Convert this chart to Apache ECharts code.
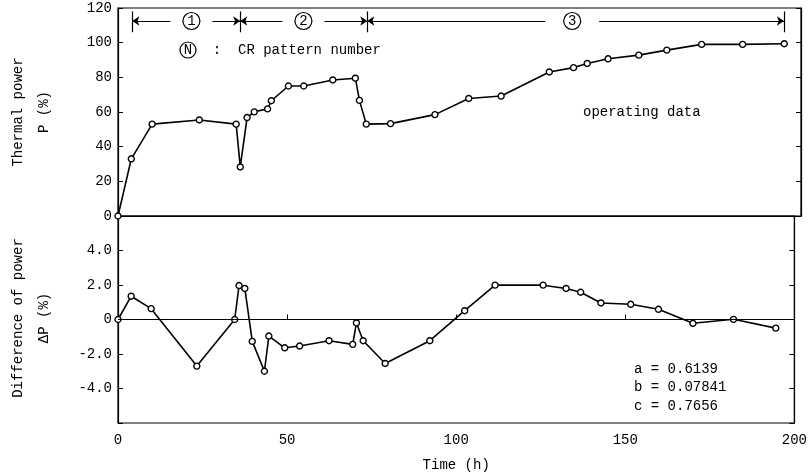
<!DOCTYPE html>
<html><head><meta charset="utf-8">
<script src="https://cdn.jsdelivr.net/npm/echarts@6/dist/echarts.min.js"></script>
<style>html,body{margin:0;padding:0;background:#fff}#c{width:810px;height:475px}</style>
</head><body><div id="c"></div>
<script>
// Top panel: thermal power P (%)
const powerTime = [0, 3.9, 10.0, 23.8, 34.6, 35.8, 37.8, 39.9, 43.8, 44.9, 49.9, 54.4, 62.9, 69.5, 70.7, 72.7, 79.8, 92.8, 102.7, 112.2, 126.3, 133.4, 137.4, 143.5, 152.5, 160.7, 170.9, 182.9, 195.1];
const powerValues = [0, 33, 53, 55.4, 53, 28.3, 56.8, 60.1, 61.8, 66.5, 75, 75, 78.5, 79.5, 66.7, 53, 53.3, 58.5, 67.8, 69.2, 83.1, 85.6, 88, 90.7, 92.8, 95.7, 99, 99, 99.4];
// Bottom panel: difference of power dP (%)
const diffTime = [0, 3.9, 9.8, 23.3, 34.5, 35.8, 37.5, 39.7, 43.3, 44.6, 49.3, 53.7, 62.4, 69.4, 70.5, 72.5, 79.0, 92.2, 102.5, 111.5, 125.7, 132.5, 136.8, 142.8, 151.6, 159.8, 170.0, 182.0, 194.5];
const diffValues = [0, 1.35, 0.63, -2.7, 0, 1.97, 1.8, -1.27, -3.0, -0.96, -1.64, -1.54, -1.23, -1.44, -0.2, -1.23, -2.55, -1.23, 0.51, 1.99, 1.99, 1.8, 1.58, 0.96, 0.88, 0.59, -0.22, 0.01, -0.5];
// CR pattern phases
const phaseBounds = [4.2, 35.8, 73, 195];
const phaseLabels = ['1', '2', '3'];
const phaseLabelAt = [21.5, 54.3, 133];
const phaseLevel = 112.5, phaseBarLow = 106, phaseBarHigh = 118;
// Axis ticks
const timeTicks = [0, 50, 100, 150, 200];
const powerTicks = [0, 20, 40, 60, 80, 100, 120];
const diffTickLabels = {'-6': '', '-4': '-4.0', '-2': '-2.0', '0': '0', '2': '2.0', '4': '4.0', '6': ''};
const params = ['a = 0.6139', 'b = 0.07841', 'c = 0.7656'];

const FONT = '"Liberation Mono", "DejaVu Sans Mono", monospace';
const pts = (xs, ys) => xs.map((x, i) => [x, ys[i]]);

const chart = echarts.init(document.getElementById('c'), null, {renderer: 'canvas'});

const headerLines = [];
for (let i = 0; i < phaseLabels.length; i++) {
  headerLines.push([
    {coord: [phaseBounds[i], phaseLevel], symbol: 'arrow'},
    {coord: [phaseBounds[i + 1], phaseLevel], symbol: 'arrow'}
  ]);
}
phaseBounds.forEach(b => headerLines.push([
  {coord: [b, phaseBarLow], symbol: 'none'},
  {coord: [b, phaseBarHigh], symbol: 'none'}
]));
const headerMarks = [];
phaseLabels.forEach((lab, i) => {
  headerMarks.push({coord: [phaseLabelAt[i], phaseLevel], symbol: 'rect', symbolSize: [i === 2 ? 54 : 42, 8],
    itemStyle: {color: '#fff', borderWidth: 0}, label: {show: false}});
});
phaseLabels.forEach((lab, i) => {
  headerMarks.push({coord: [phaseLabelAt[i], phaseLevel], symbol: 'circle', symbolSize: 17,
    itemStyle: {color: '#fff', borderColor: '#000', borderWidth: 1.2},
    label: {show: true, position: 'inside', formatter: lab, color: '#000', fontFamily: FONT, fontSize: 14}});
});

const axisCommon = {
  axisLine: {show: true, lineStyle: {color: '#000', width: 1.2}},
  axisTick: {show: true, inside: true, length: 5, lineStyle: {color: '#000', width: 1}},
  splitLine: {show: false},
  axisLabel: {color: '#000', fontFamily: FONT, fontSize: 14}
};

chart.setOption({
  animation: false,
  backgroundColor: '#fff',
  grid: [
    {left: 118, right: 9, top: 8, height: 208, show: true, borderColor: '#000', borderWidth: 1.2},
    {left: 118, right: 9, top: 216, height: 207, show: true, borderColor: '#000', borderWidth: 1.2}
  ],
  xAxis: [
    Object.assign({}, axisCommon, {gridIndex: 0, type: 'value', min: 0, max: 200, interval: 50,
      axisTick: {show: false}, axisLabel: {show: false}}),
    Object.assign({}, axisCommon, {gridIndex: 1, type: 'value', min: 0, max: 200, interval: 50,
      axisLabel: Object.assign({}, axisCommon.axisLabel, {margin: 10, formatter: v => timeTicks.includes(v) ? String(v) : ''}),
      name: 'Time (h)', nameLocation: 'middle', nameGap: 35,
      nameTextStyle: {color: '#000', fontFamily: FONT, fontSize: 14}})
  ],
  yAxis: [
    Object.assign({}, axisCommon, {gridIndex: 0, type: 'value', min: 0, max: 120, interval: 20,
      axisLabel: Object.assign({}, axisCommon.axisLabel, {margin: 6, formatter: v => powerTicks.includes(v) ? String(v) : ''})}),
    Object.assign({}, axisCommon, {gridIndex: 1, type: 'value', min: -6, max: 6, interval: 2,
      axisLabel: Object.assign({}, axisCommon.axisLabel, {margin: 6, formatter: v => diffTickLabels[String(v)]})}),
    Object.assign({}, axisCommon, {gridIndex: 0, type: 'value', min: 0, max: 120, interval: 20, position: 'right',
      axisLabel: {show: false}}),
    Object.assign({}, axisCommon, {gridIndex: 1, type: 'value', min: -6, max: 6, interval: 2, position: 'right',
      axisLabel: {show: false}})
  ],
  series: [
    {type: 'line', xAxisIndex: 0, yAxisIndex: 0, data: pts(powerTime, powerValues), z: 3,
      symbol: 'circle', symbolSize: 6, showAllSymbol: true,
      lineStyle: {color: '#000', width: 1.6}, itemStyle: {color: '#fff', borderColor: '#000', borderWidth: 1.4},
      markLine: {silent: true, symbol: 'none', symbolSize: 7, animation: false,
        lineStyle: {color: '#000', width: 1.2, type: 'solid'}, label: {show: false},
        data: headerLines},
      markPoint: {silent: true, animation: false, data: headerMarks}},
    {type: 'line', xAxisIndex: 1, yAxisIndex: 1, data: pts(diffTime, diffValues),
      symbol: 'circle', symbolSize: 6, showAllSymbol: true,
      lineStyle: {color: '#000', width: 1.6}, itemStyle: {color: '#fff', borderColor: '#000', borderWidth: 1.4},
      markLine: {silent: true, symbol: 'none', animation: false,
        lineStyle: {color: '#000', width: 1.2, type: 'solid'}, label: {show: false},
        data: [{yAxis: 0}]}}
  ],
  graphic: [
    {type: 'text', x: 18, y: 112, rotation: Math.PI / 2,
      style: {text: 'Thermal power', align: 'center', verticalAlign: 'middle', font: '14px ' + FONT, fill: '#000'}},
    {type: 'text', x: 44, y: 112, rotation: Math.PI / 2,
      style: {text: 'P (%)', align: 'center', verticalAlign: 'middle', font: '14px ' + FONT, fill: '#000'}},
    {type: 'text', x: 18, y: 318, rotation: Math.PI / 2,
      style: {text: 'Difference of power', align: 'center', verticalAlign: 'middle', font: '14px ' + FONT, fill: '#000'}},
    {type: 'text', x: 44, y: 318, rotation: Math.PI / 2,
      style: {text: 'ΔP (%)', align: 'center', verticalAlign: 'middle', font: '14px ' + FONT, fill: '#000'}},
    {type: 'text', x: 180, y: 42,
      style: {text: '{c|N}  :  CR pattern number', font: '14px ' + FONT, fill: '#000',
        rich: {c: {fontFamily: FONT, fontSize: 14, fill: '#000', borderColor: '#000', borderWidth: 1.2,
          borderRadius: 9, width: 16, height: 16, lineHeight: 16, align: 'center'}}}},
    {type: 'text', x: 583, y: 105,
      style: {text: 'operating data', font: '14px ' + FONT, fill: '#000'}},
    {type: 'text', x: 634, y: 360,
      style: {text: params.join('\n'), font: '14px ' + FONT, fill: '#000', lineHeight: 18.5}}
  ]
});
</script></body></html>
